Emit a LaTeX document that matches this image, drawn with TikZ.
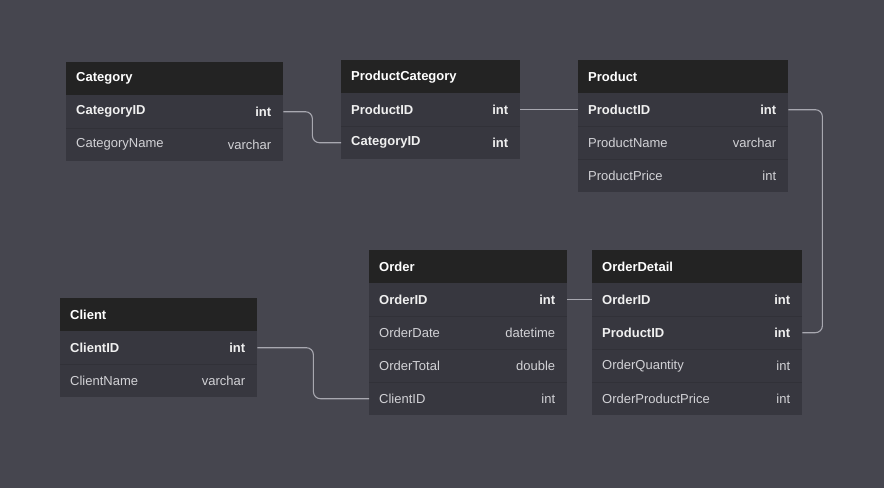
\documentclass[tikz,border=0pt]{standalone}
\usepackage{fontspec}
\setmainfont{Liberation Sans}
\usetikzlibrary{calc}
\definecolor{bgc}{HTML}{46464F}
\definecolor{hdrc}{HTML}{232323}
\definecolor{rowc}{HTML}{37373F}
\definecolor{sepc}{HTML}{313138}
\definecolor{txtc}{HTML}{D2D2D6}
\definecolor{linec}{HTML}{A8A8B0}
\tikzset{
  x=1pt, y=-1pt,
  hdrbox/.style={fill=hdrc, draw=none, anchor=north west, inner sep=0pt, minimum height=33pt, minimum width=#1},
  rowbox/.style={fill=rowc, draw=none, anchor=north west, inner sep=0pt, minimum height=33pt, minimum width=#1},
  ttl/.style={anchor=west, inner sep=0pt, text=white, font=\fontsize{13}{15}\selectfont\bfseries},
  fld/.style={anchor=west, inner sep=0pt, text=txtc, font=\fontsize{13}{15}\selectfont},
  typ/.style={anchor=east, inner sep=0pt, text=txtc, font=\fontsize{13}{15}\selectfont},
  keyf/.style={font=\fontsize{13}{15}\selectfont\bfseries, text=white!88!gray},
  conn/.style={draw=linec, line width=1.1pt, rounded corners=7pt},
  sepl/.style={draw=sepc, line width=0.8pt}
}
% \ERhead{id}{x}{y}{w}{title}
\newcommand\ERhead[5]{%
  \node[hdrbox=#4] (#1) at (#2,#3) {};
  \node[ttl] (#1t) at ($(#1.west)+(10,0)$) {#5};
}
% \ERrow{id}{x}{y}{w}{field}{type}{extra style}
\newcommand\ERrow[7]{%
  \node[rowbox=#4] (#1) at (#2,#3) {};
  \node[fld,#7] (#1f) at ($(#1.west)+(10,0)$) {#5};
  \node[typ,#7] (#1y) at ($(#1.east)+(-12,0)$) {#6};
}
\begin{document}
\begin{tikzpicture}
\fill[bgc] (0,0) rectangle (884,488);
\useasboundingbox (0,0) rectangle (884,488);

% Category
\ERhead{cat}{66}{62}{217}{Category}
\ERrow{catA}{66}{95}{217}{CategoryID}{int}{keyf}
\ERrow{catB}{66}{128}{217}{CategoryName}{varchar}{}
\draw[sepl] (catA.south west) -- (catA.south east);

% ProductCategory
\ERhead{pc}{341}{60}{179}{ProductCategory}
\ERrow{pcA}{341}{93}{179}{ProductID}{int}{keyf}
\ERrow{pcB}{341}{126}{179}{CategoryID}{int}{keyf}
\draw[sepl] (pcA.south west) -- (pcA.south east);

% Product
\ERhead{pr}{578}{60}{210}{Product}
\ERrow{prA}{578}{93}{210}{ProductID}{int}{keyf}
\ERrow{prB}{578}{126}{210}{ProductName}{varchar}{}
\ERrow{prC}{578}{159}{210}{ProductPrice}{int}{}
\draw[sepl] (prA.south west) -- (prA.south east);
\draw[sepl] (prB.south west) -- (prB.south east);

% Client
\ERhead{cl}{60}{298}{197}{Client}
\ERrow{clA}{60}{331}{197}{ClientID}{int}{keyf}
\ERrow{clB}{60}{364}{197}{ClientName}{varchar}{}
\draw[sepl] (clA.south west) -- (clA.south east);

% Order
\ERhead{or}{369}{250}{198}{Order}
\ERrow{orA}{369}{283}{198}{OrderID}{int}{keyf}
\ERrow{orB}{369}{316}{198}{OrderDate}{datetime}{}
\ERrow{orC}{369}{349}{198}{OrderTotal}{double}{}
\ERrow{orD}{369}{382}{198}{ClientID}{int}{}
\draw[sepl] (orA.south west) -- (orA.south east);
\draw[sepl] (orB.south west) -- (orB.south east);
\draw[sepl] (orC.south west) -- (orC.south east);

% OrderDetail
\ERhead{od}{592}{250}{210}{OrderDetail}
\ERrow{odA}{592}{283}{210}{OrderID}{int}{keyf}
\ERrow{odB}{592}{316}{210}{ProductID}{int}{keyf}
\ERrow{odC}{592}{349}{210}{OrderQuantity}{int}{}
\ERrow{odD}{592}{382}{210}{OrderProductPrice}{int}{}
\draw[sepl] (odA.south west) -- (odA.south east);
\draw[sepl] (odB.south west) -- (odB.south east);
\draw[sepl] (odC.south west) -- (odC.south east);

% connectors
\draw[conn] (catA.east) -- ++(29,0) |- (pcB.west);
\draw[conn] (pcA.east) -- (prA.west);
\draw[conn] (prA.east) -- ++(34,0) |- (odB.east);
\draw[conn] (orA.east) -- (odA.west);
\draw[conn] (clA.east) -- ++(56,0) |- (orD.west);
\end{tikzpicture}
\end{document}
